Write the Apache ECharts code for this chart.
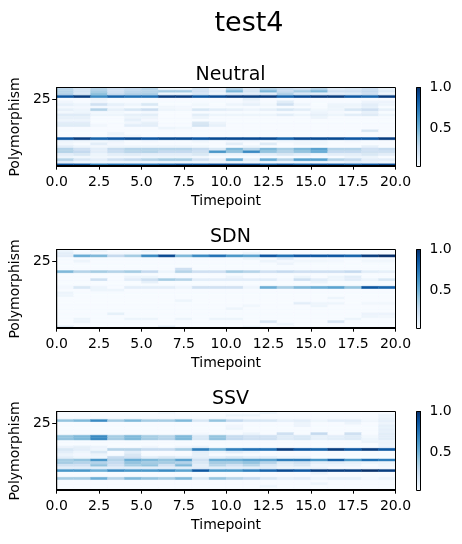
<!DOCTYPE html>
<html>
<head>
<meta charset="utf-8">
<script src="https://cdn.jsdelivr.net/npm/echarts@6/dist/echarts.min.js"></script>
<style>
    html, body { margin: 0; padding: 0; background: #fff; }
    #main { width: 462px; height: 544px; }
</style>
</head>
<body>
<div id="main"></div>
<script>
// 标题
const figTitle = 'test4';
const panelTitles = ['Neutral', 'SDN', 'SSV'];
// 刻度
const xTickValues = [0, 2.5, 5, 7.5, 10, 12.5, 15, 17.5, 20];
const yTickValues = [25];
const cbarTickValues = [0.5, 1.0];
const cbarRange = [0.035, 1.0];
// Blues 色带
const blues = ['#f7fbff', '#deebf7', '#c6dbef', '#9ecae1', '#6baed6', '#4292c6', '#2171b5', '#08519c', '#08306b'];

// 每行 = 一个 Polymorphism (最上面一行在前, 即 29 -> 0), 每列 = 一个 Timepoint (0..19)
const neutralRows = [
    [0.28, 0.18, 0.30, 0.20, 0.25, 0.30, 0.05, 0.05, 0.18, 0.06, 0.30, 0.15, 0.30, 0.25, 0.20, 0.30, 0.12, 0.15, 0.22, 0.08],
    [0.30, 0.18, 0.35, 0.20, 0.28, 0.30, 0.35, 0.35, 0.20, 0.10, 0.45, 0.18, 0.45, 0.25, 0.35, 0.45, 0.20, 0.20, 0.25, 0.12],
    [0.30, 0.15, 0.40, 0.22, 0.30, 0.32, 0.05, 0.05, 0.15, 0.05, 0.10, 0.10, 0.10, 0.30, 0.15, 0.10, 0.10, 0.12, 0.20, 0.05],
    [0.85, 0.95, 0.65, 0.80, 0.75, 0.75, 0.95, 0.95, 0.85, 0.90, 0.95, 0.95, 0.95, 0.80, 0.90, 0.95, 0.95, 0.85, 0.80, 0.95],
    [0, 0, 0.05, 0, 0, 0, 0, 0, 0, 0, 0, 0.08, 0, 0, 0, 0, 0, 0, 0, 0],
    [0.03, 0, 0.03, 0, 0, 0, 0, 0, 0, 0, 0, 0.03, 0, 0.10, 0, 0, 0, 0, 0.05, 0.05],
    [0.08, 0.05, 0.20, 0.08, 0.05, 0.15, 0, 0, 0.03, 0, 0.05, 0.08, 0.03, 0.20, 0.05, 0, 0.05, 0.05, 0.10, 0.05],
    [0.02, 0.02, 0.02, 0.02, 0, 0, 0.03, 0.02, 0, 0, 0, 0, 0, 0, 0, 0, 0.05, 0.03, 0.08, 0],
    [0.08, 0.05, 0.30, 0.08, 0.15, 0.22, 0.05, 0.03, 0.15, 0.10, 0.08, 0.05, 0.08, 0.15, 0.10, 0.03, 0.05, 0.15, 0.20, 0.08],
    [0.03, 0.05, 0.02, 0.03, 0, 0.02, 0, 0, 0, 0, 0, 0, 0, 0, 0, 0.05, 0.02, 0, 0.08, 0],
    [0.12, 0.12, 0.05, 0.05, 0.08, 0.10, 0, 0, 0.10, 0.05, 0.05, 0.05, 0.05, 0.10, 0.05, 0.08, 0.05, 0.10, 0.12, 0.05],
    [0.08, 0.08, 0, 0, 0.05, 0.05, 0, 0, 0.05, 0, 0, 0, 0, 0, 0, 0.05, 0, 0, 0, 0],
    [0.05, 0.05, 0, 0, 0.08, 0.02, 0, 0, 0, 0, 0, 0, 0, 0, 0, 0, 0, 0, 0, 0],
    [0.10, 0.10, 0, 0, 0.03, 0.08, 0, 0, 0.15, 0.05, 0, 0, 0, 0, 0, 0, 0, 0, 0, 0],
    [0.12, 0.12, 0.03, 0, 0.10, 0.10, 0, 0, 0.18, 0.08, 0, 0, 0, 0, 0, 0, 0, 0, 0, 0],
    [0, 0, 0, 0, 0, 0, 0.05, 0.03, 0, 0, 0, 0, 0, 0, 0, 0, 0, 0, 0, 0],
    [0, 0, 0, 0, 0, 0, 0, 0, 0, 0, 0, 0, 0, 0, 0, 0, 0, 0, 0.15, 0],
    [0, 0, 0, 0.05, 0, 0, 0, 0, 0, 0, 0, 0, 0, 0, 0, 0, 0, 0, 0, 0],
    [0, 0, 0, 0.03, 0.03, 0, 0, 0, 0, 0, 0, 0, 0, 0, 0, 0, 0, 0, 0, 0],
    [0.85, 0.95, 0.80, 0.85, 0.90, 0.85, 0.90, 0.90, 0.85, 0.90, 0.90, 0.90, 0.90, 0.80, 0.90, 0.90, 0.90, 0.85, 0.85, 0.95],
    [0.05, 0.03, 0.03, 0.05, 0, 0.02, 0, 0, 0.03, 0, 0.02, 0.02, 0, 0.03, 0.03, 0.03, 0, 0.02, 0, 0],
    [0.03, 0, 0.10, 0.02, 0, 0, 0, 0, 0, 0, 0.10, 0, 0.12, 0, 0.03, 0.03, 0, 0, 0, 0],
    [0.10, 0.05, 0.03, 0.05, 0.05, 0.05, 0.05, 0.05, 0.03, 0, 0, 0.05, 0, 0, 0, 0, 0, 0, 0.08, 0],
    [0.30, 0.20, 0.10, 0.25, 0.30, 0.30, 0.30, 0.30, 0.25, 0.15, 0.45, 0.30, 0.45, 0.35, 0.45, 0.55, 0.30, 0.30, 0.20, 0.25],
    [0.30, 0.25, 0.10, 0.22, 0.28, 0.30, 0.25, 0.25, 0.20, 0.60, 0.40, 0.65, 0.40, 0.30, 0.40, 0.50, 0.25, 0.25, 0.20, 0.20],
    [0.10, 0.15, 0.05, 0.10, 0.12, 0.10, 0.10, 0.10, 0.15, 0.05, 0.05, 0.05, 0.10, 0.15, 0.10, 0.05, 0.10, 0.10, 0.15, 0.10],
    [0.05, 0.03, 0.03, 0.03, 0.03, 0.05, 0.05, 0.05, 0.03, 0, 0, 0, 0, 0, 0, 0, 0, 0.05, 0.05, 0],
    [0.30, 0.15, 0.10, 0.20, 0.25, 0.30, 0.35, 0.35, 0.20, 0.10, 0.50, 0.12, 0.50, 0.30, 0.55, 0.55, 0.30, 0.25, 0.10, 0.10],
    [0.10, 0.05, 0.05, 0.05, 0.05, 0.05, 0.05, 0.05, 0.05, 0.05, 0.05, 0.05, 0.05, 0.05, 0.05, 0.05, 0.05, 0.10, 0.08, 0.05],
    [0.85, 0.85, 0.70, 0.75, 0.75, 0.75, 0.80, 0.85, 0.85, 0.90, 0.90, 0.90, 0.80, 0.85, 0.80, 0.85, 0.85, 0.80, 0.85, 0.90]
];

const sdnRows = [
    [0.05, 0, 0.05, 0, 0, 0.05, 0, 0, 0, 0, 0, 0, 0, 0, 0, 0, 0, 0, 0, 0],
    [0.10, 0.02, 0.02, 0.02, 0.02, 0.02, 0, 0, 0, 0, 0, 0.05, 0, 0, 0, 0, 0, 0, 0, 0],
    [0.10, 0.50, 0.45, 0.25, 0.35, 0.65, 0.90, 0.45, 0.65, 0.75, 0.60, 0.55, 0.85, 0.75, 0.85, 0.85, 0.85, 0.80, 0.95, 1.00],
    [0, 0, 0, 0, 0, 0, 0, 0, 0, 0, 0, 0.05, 0, 0.10, 0, 0, 0, 0, 0, 0],
    [0, 0.05, 0, 0, 0, 0, 0, 0, 0, 0, 0, 0, 0.05, 0.02, 0.03, 0.03, 0.02, 0, 0.03, 0.03],
    [0, 0, 0, 0, 0, 0, 0, 0, 0, 0, 0, 0, 0, 0.05, 0, 0, 0, 0, 0, 0],
    [0, 0, 0, 0, 0, 0, 0, 0, 0, 0, 0, 0, 0, 0, 0, 0, 0, 0, 0, 0],
    [0, 0, 0, 0, 0, 0, 0, 0.20, 0, 0, 0, 0, 0, 0, 0, 0, 0, 0, 0, 0],
    [0.45, 0.30, 0.35, 0.30, 0.35, 0.25, 0.05, 0.30, 0.20, 0.20, 0.35, 0.30, 0.20, 0.25, 0.20, 0.20, 0.20, 0.25, 0.10, 0.08],
    [0, 0, 0, 0, 0, 0, 0, 0, 0, 0, 0, 0, 0, 0, 0, 0, 0, 0, 0, 0],
    [0, 0, 0, 0, 0.05, 0.05, 0, 0, 0, 0, 0.05, 0, 0, 0, 0.05, 0, 0.05, 0.10, 0, 0],
    [0, 0, 0.20, 0, 0.10, 0.20, 0.35, 0.30, 0.10, 0.10, 0.10, 0.10, 0.10, 0.02, 0.20, 0.10, 0.05, 0.10, 0.05, 0.15],
    [0, 0, 0, 0, 0, 0.08, 0, 0, 0, 0, 0, 0, 0, 0, 0, 0.05, 0, 0, 0, 0],
    [0, 0, 0, 0, 0, 0, 0, 0, 0, 0, 0, 0, 0, 0, 0, 0, 0, 0, 0, 0],
    [0.02, 0.15, 0.05, 0, 0.10, 0.10, 0.10, 0.05, 0.20, 0.20, 0.20, 0.05, 0.50, 0.35, 0.45, 0.50, 0.55, 0.40, 0.85, 0.80],
    [0, 0, 0.05, 0.05, 0, 0, 0, 0, 0, 0, 0, 0, 0, 0, 0, 0, 0, 0, 0, 0],
    [0.05, 0, 0, 0, 0, 0, 0, 0, 0, 0, 0, 0, 0, 0, 0, 0, 0, 0, 0, 0],
    [0.05, 0, 0, 0, 0, 0, 0, 0, 0, 0, 0, 0, 0, 0, 0, 0, 0, 0, 0, 0],
    [0, 0, 0, 0, 0, 0, 0, 0, 0, 0, 0, 0, 0, 0, 0, 0, 0.05, 0, 0, 0],
    [0, 0, 0, 0, 0, 0, 0, 0.05, 0, 0, 0, 0, 0, 0, 0, 0, 0, 0, 0, 0],
    [0, 0, 0, 0, 0, 0, 0, 0, 0, 0, 0, 0, 0, 0, 0.10, 0.05, 0.05, 0, 0.03, 0.03],
    [0, 0, 0, 0, 0, 0, 0, 0, 0, 0, 0, 0.03, 0, 0, 0, 0.05, 0, 0, 0, 0],
    [0, 0, 0, 0, 0, 0, 0, 0, 0, 0, 0.05, 0, 0, 0, 0, 0, 0, 0, 0, 0],
    [0, 0, 0, 0, 0, 0, 0, 0, 0, 0, 0, 0, 0, 0, 0, 0, 0, 0, 0, 0],
    [0, 0, 0, 0.08, 0, 0, 0, 0, 0, 0, 0, 0, 0, 0, 0, 0, 0, 0, 0.05, 0.05],
    [0, 0, 0, 0, 0, 0, 0, 0, 0, 0, 0, 0, 0, 0, 0, 0, 0, 0, 0.05, 0.03],
    [0, 0.05, 0, 0, 0.05, 0.05, 0, 0.05, 0, 0.05, 0.05, 0, 0, 0, 0, 0, 0, 0.05, 0, 0],
    [0, 0.05, 0, 0, 0, 0, 0, 0, 0, 0, 0, 0, 0.15, 0, 0, 0, 0.15, 0, 0, 0],
    [0, 0, 0, 0, 0, 0, 0, 0, 0, 0, 0, 0, 0, 0.05, 0, 0, 0, 0, 0, 0],
    [0.10, 0, 0, 0, 0, 0, 0.10, 0, 0, 0, 0, 0.05, 0, 0, 0, 0, 0, 0, 0, 0]
];

const ssvRows = [
    [0, 0, 0, 0, 0, 0, 0.03, 0, 0, 0, 0, 0, 0.05, 0, 0, 0, 0, 0, 0, 0],
    [0, 0, 0, 0, 0, 0, 0, 0, 0, 0, 0.05, 0.05, 0, 0, 0, 0, 0, 0, 0, 0.05],
    [0, 0, 0, 0, 0, 0, 0, 0, 0, 0, 0, 0, 0, 0, 0, 0, 0, 0, 0, 0.05],
    [0.40, 0.45, 0.65, 0.35, 0.45, 0.35, 0.35, 0.45, 0.15, 0.40, 0.25, 0.15, 0.15, 0.08, 0.10, 0.05, 0.10, 0.10, 0.03, 0.08],
    [0, 0, 0, 0, 0, 0, 0, 0, 0, 0, 0, 0, 0, 0, 0.05, 0, 0, 0.05, 0, 0.05],
    [0, 0, 0, 0, 0, 0, 0, 0, 0, 0, 0.03, 0, 0, 0, 0.05, 0, 0, 0, 0, 0.08],
    [0, 0, 0, 0, 0, 0, 0, 0, 0, 0, 0.05, 0, 0, 0, 0, 0, 0, 0, 0, 0.08],
    [0, 0, 0, 0, 0, 0, 0, 0, 0, 0, 0, 0, 0, 0, 0, 0, 0, 0, 0, 0.08],
    [0, 0, 0, 0, 0, 0, 0, 0, 0.02, 0, 0, 0.05, 0, 0.20, 0, 0.25, 0, 0.20, 0, 0.10],
    [0.40, 0.45, 0.65, 0.35, 0.45, 0.35, 0.30, 0.45, 0.15, 0.40, 0.25, 0.20, 0.20, 0.12, 0.15, 0.08, 0.10, 0.12, 0.03, 0.10],
    [0.40, 0.45, 0.65, 0.35, 0.45, 0.35, 0.30, 0.45, 0.15, 0.40, 0.25, 0.20, 0.20, 0.12, 0.15, 0.08, 0.10, 0.12, 0.05, 0.10],
    [0, 0, 0, 0, 0, 0, 0, 0, 0, 0, 0, 0, 0, 0, 0, 0, 0, 0, 0.05, 0.05],
    [0, 0, 0, 0, 0, 0, 0, 0, 0, 0, 0, 0, 0, 0, 0, 0, 0, 0, 0, 0.05],
    [0.05, 0.08, 0.05, 0, 0, 0.03, 0, 0.03, 0.05, 0, 0, 0, 0, 0, 0, 0, 0, 0, 0, 0.05],
    [0.15, 0.10, 0.05, 0.30, 0.30, 0.25, 0.25, 0.35, 0.70, 0.50, 0.70, 0.75, 0.75, 0.95, 0.85, 0.80, 0.95, 0.85, 0.95, 0.85],
    [0.10, 0.05, 0.15, 0, 0.10, 0, 0, 0, 0.10, 0.05, 0.10, 0.05, 0, 0, 0, 0, 0, 0, 0, 0],
    [0.05, 0.02, 0.05, 0, 0.15, 0, 0, 0, 0.08, 0, 0, 0, 0, 0, 0, 0, 0, 0, 0, 0],
    [0.10, 0.05, 0.05, 0.25, 0.20, 0.10, 0.15, 0.10, 0.10, 0.10, 0.15, 0.10, 0.10, 0.05, 0.05, 0, 0, 0, 0, 0],
    [0.35, 0.40, 0.60, 0.30, 0.50, 0.45, 0.40, 0.55, 0.20, 0.50, 0.50, 0.55, 0.55, 0.70, 0.70, 0.60, 0.80, 0.60, 0.75, 0.70],
    [0.35, 0.30, 0.30, 0.25, 0.40, 0.35, 0.35, 0.30, 0.15, 0.35, 0.35, 0.40, 0.30, 0.15, 0.20, 0.10, 0.10, 0.08, 0.05, 0.05],
    [0.20, 0.20, 0.40, 0.20, 0.35, 0.40, 0.20, 0.45, 0.10, 0.30, 0.20, 0.30, 0.15, 0.10, 0.15, 0.05, 0.05, 0.05, 0, 0.03],
    [0.10, 0.10, 0.10, 0.10, 0.10, 0.10, 0.10, 0.10, 0.10, 0.10, 0.10, 0.10, 0.10, 0.05, 0.05, 0.05, 0, 0, 0, 0],
    [0.60, 0.60, 0.50, 0.65, 0.60, 0.60, 0.65, 0.55, 0.85, 0.60, 0.60, 0.70, 0.80, 0.90, 0.85, 0.95, 0.95, 0.95, 1.00, 0.95],
    [0, 0, 0, 0, 0, 0, 0, 0, 0, 0, 0, 0, 0, 0, 0, 0.05, 0, 0, 0, 0],
    [0, 0, 0, 0, 0, 0, 0, 0, 0, 0, 0, 0, 0, 0, 0, 0, 0, 0, 0, 0],
    [0.35, 0.35, 0.50, 0.30, 0.45, 0.40, 0.35, 0.45, 0.15, 0.40, 0.30, 0.25, 0.15, 0.08, 0.10, 0.05, 0.08, 0.08, 0.02, 0.05],
    [0, 0, 0, 0, 0, 0, 0, 0, 0, 0, 0, 0, 0, 0, 0, 0, 0, 0, 0, 0],
    [0, 0, 0, 0, 0, 0, 0, 0, 0, 0, 0, 0, 0, 0, 0, 0.05, 0, 0, 0, 0],
    [0, 0, 0, 0, 0, 0, 0, 0, 0, 0, 0, 0, 0.05, 0, 0, 0, 0, 0, 0, 0],
    [0, 0, 0, 0, 0, 0, 0, 0, 0, 0, 0, 0, 0, 0, 0, 0, 0, 0, 0, 0]
];

const panels = [neutralRows, sdnRows, ssvRows];

// 布局 (像素), 半像素对齐让边框清晰
const FONT = 'DejaVu Sans';
const plotLeft = 55.5, plotWidth = 340, plotHeight = 79;
const panelTops = [87.5, 249.5, 411.5];
const cbarLeft = 416.5, cbarWidth = 4;

// 行 -> [x, y, value]
function toCells(rows) {
    const out = [];
    rows.forEach(function (row, k) {
        const y = rows.length - 1 - k;
        row.forEach(function (v, c) {
            out.push([c, y, v]);
        });
    });
    return out;
}

function renderCell(params, api) {
    const x = api.value(0), y = api.value(1);
    const p0 = api.coord([x, y + 0.5]);
    const p1 = api.coord([x + 1, y - 0.5]);
    const color = api.visual('color');
    return {
        type: 'rect',
        shape: { x: p0[0], y: p0[1], width: p1[0] - p0[0], height: p1[1] - p0[1] },
        style: { fill: color, stroke: color, lineWidth: 0.4 }
    };
}

// 色条: 从上(1.0)到下(vmin)
const barStops = blues.slice().reverse().map(function (c, i) {
    return { offset: i / (blues.length - 1), color: c };
});

function renderBar(params, api) {
    const pTop = api.coord([0, api.value(2)]);
    const pBot = api.coord([1, api.value(1)]);
    return {
        type: 'rect',
        shape: { x: pTop[0], y: pTop[1], width: pBot[0] - pTop[0], height: pBot[1] - pTop[1] },
        style: {
            fill: new echarts.graphic.LinearGradient(0, 0, 0, 1, barStops),
            stroke: '#000',
            lineWidth: 1
        }
    };
}

const tickText = { color: '#000', fontFamily: FONT, fontSize: 14 };
const nP = panels.length;

const grids = [], xAxes = [], yAxes = [], series = [], titles = [];

titles.push({
    text: figTitle, left: 244, top: 5, textAlign: 'center',
    textStyle: { color: '#000', fontFamily: FONT, fontSize: 27, fontWeight: 'normal' }
});

// 热图: grid / axis 0..2
panels.forEach(function (rows, i) {
    const top = panelTops[i];
    titles.push({
        text: panelTitles[i], left: plotLeft + plotWidth / 2, top: top - 27, textAlign: 'center',
        textStyle: { color: '#000', fontFamily: FONT, fontSize: 19, fontWeight: 'normal' }
    });
    grids.push({
        left: plotLeft, top: top, width: plotWidth, height: plotHeight,
        show: true, borderColor: '#000', borderWidth: 1, backgroundColor: 'transparent', z: 10
    });
    xAxes.push({
        type: 'value', gridIndex: i, min: 0, max: rows[0].length, z: 10,
        name: 'Timepoint', nameLocation: 'middle', nameGap: 28,
        nameTextStyle: tickText,
        axisLine: { show: true, lineStyle: { color: '#000', width: 1 } },
        axisTick: { show: true, length: 4.5, customValues: xTickValues, lineStyle: { color: '#000' } },
        axisLabel: {
            customValues: xTickValues, margin: 9, color: '#000', fontFamily: FONT, fontSize: 14,
            formatter: function (v) { return Number(v).toFixed(1); }
        },
        splitLine: { show: false }
    });
    yAxes.push({
        type: 'value', gridIndex: i, min: -0.5, max: rows.length - 0.5, z: 10,
        name: 'Polymorphism', nameLocation: 'middle', nameGap: 30,
        nameTextStyle: tickText,
        axisLine: { show: true, lineStyle: { color: '#000', width: 1 } },
        axisTick: { show: true, length: 4.5, customValues: yTickValues, lineStyle: { color: '#000' } },
        axisLabel: { customValues: yTickValues, margin: 6, color: '#000', fontFamily: FONT, fontSize: 14 },
        splitLine: { show: false }
    });
    series.push({
        type: 'custom', name: panelTitles[i],
        xAxisIndex: i, yAxisIndex: i,
        renderItem: renderCell, clip: true, z: 2,
        encode: { x: 0, y: 1 },
        data: toCells(rows)
    });
});

// 色条: grid / axis 3..5
panels.forEach(function (rows, i) {
    const idx = nP + i;
    grids.push({ left: cbarLeft, top: panelTops[i], width: cbarWidth, height: plotHeight });
    xAxes.push({ type: 'value', gridIndex: idx, min: 0, max: 1, show: false });
    yAxes.push({
        type: 'value', gridIndex: idx, position: 'right',
        min: cbarRange[0], max: cbarRange[1],
        axisLine: { show: false },
        axisTick: { show: true, length: 4.5, customValues: cbarTickValues, lineStyle: { color: '#000' } },
        axisLabel: {
            customValues: cbarTickValues, margin: 9, color: '#000', fontFamily: FONT, fontSize: 14,
            formatter: function (v) { return Number(v).toFixed(1); }
        },
        splitLine: { show: false }
    });
    series.push({
        type: 'custom', xAxisIndex: idx, yAxisIndex: idx,
        renderItem: renderBar,
        encode: { x: 0, y: [1, 2] },
        data: [[0, cbarRange[0], cbarRange[1]]]
    });
});

var myChart = echarts.init(document.getElementById('main'));
myChart.setOption({
    animation: false,
    backgroundColor: '#fff',
    title: titles,
    grid: grids,
    xAxis: xAxes,
    yAxis: yAxes,
    visualMap: {
        show: false, type: 'continuous',
        seriesIndex: [0, 1, 2], dimension: 2,
        min: 0, max: 1,
        inRange: { color: blues }
    },
    series: series
});
</script>
</body>
</html>
